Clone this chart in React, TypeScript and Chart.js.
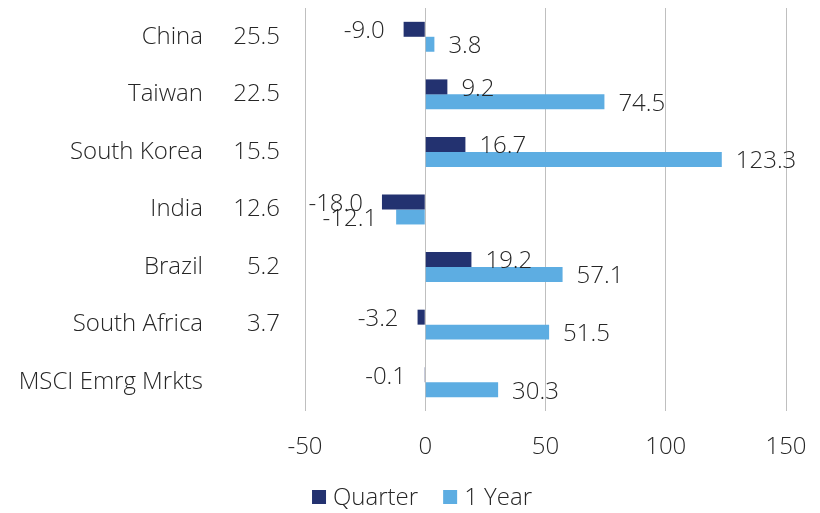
import React, { useEffect, useRef } from "react";
import { Chart, registerables } from "chart.js";

Chart.register(...registerables);

const categories = ["China", "Taiwan", "South Korea", "India", "Brazil", "South Africa", "MSCI Emrg Mrkts"];
const weights = ["25.5", "22.5", "15.5", "12.6", "5.2", "3.7", ""];
const quarter = [-9.0, 9.2, 16.7, -18.0, 19.2, -3.2, -0.1];
const oneYear = [3.8, 74.5, 123.3, -12.1, 57.1, 51.5, 30.3];
const seriesNames = ["Quarter", "1 Year"];
const xMin = -50;
const xMax = 150;
const xStep = 50;

const FONT = "'Open Sans', 'Segoe UI', sans-serif";
const FS = 24;
const TEXT = "#262626";
const NAVY = "#233270";
const LIGHT = "#5DADE2";

const labelPlugin = {
  id: "customLabels",
  afterDraw(chart: any) {
    const ctx = chart.ctx;
    const yScale = chart.scales.y;
    const area = chart.chartArea;
    ctx.save();
    ctx.font = `300 ${FS}px ${FONT}`;
    ctx.fillStyle = TEXT;
    ctx.textBaseline = "middle";
    // category names and weights
    categories.forEach((c, i) => {
      const y = yScale.getPixelForTick(i);
      ctx.textAlign = "right";
      ctx.fillText(c, area.left - 102, y);
      ctx.fillText(weights[i], area.left - 25, y);
    });
    // data labels
    chart.data.datasets.forEach((ds: any, di: number) => {
      const meta = chart.getDatasetMeta(di);
      meta.data.forEach((el: any, i: number) => {
        const v = ds.data[i];
        const txt = v.toFixed(1);
        if (v >= 0) {
          ctx.textAlign = "left";
          ctx.fillText(txt, el.x + 14, el.y + 2);
        } else {
          ctx.textAlign = "right";
          ctx.fillText(txt, el.x - 19, el.y + 2);
        }
      });
    });
    // legend
    const box = 14;
    const gap = 7;
    const itemGap = 25;
    const widths = chart.data.datasets.map((ds: any) => ctx.measureText(ds.label).width);
    const total = widths.reduce((a: number, w: number) => a + box + gap + w, 0) + itemGap * (widths.length - 1);
    let x = chart.width / 2 + 12 - total / 2;
    const ly = chart.height - 16;
    ctx.textAlign = "left";
    chart.data.datasets.forEach((ds: any, di: number) => {
      ctx.fillStyle = ds.backgroundColor;
      ctx.fillRect(x, ly - box / 2, box, box);
      ctx.fillStyle = TEXT;
      ctx.fillText(ds.label, x + box + gap, ly + 1);
      x += box + gap + widths[di] + itemGap;
    });
    ctx.restore();
  },
};

export default function App() {
  const ref = useRef<HTMLCanvasElement>(null);
  useEffect(() => {
    document.body.style.margin = "0";
    const chart = new Chart(ref.current!, {
      type: "bar",
      data: {
        labels: categories,
        datasets: [
          { label: seriesNames[0], data: quarter, backgroundColor: NAVY, categoryPercentage: 0.52, barPercentage: 1 },
          { label: seriesNames[1], data: oneYear, backgroundColor: LIGHT, categoryPercentage: 0.52, barPercentage: 1 },
        ],
      },
      options: {
        indexAxis: "y",
        animation: false,
        responsive: false,
        maintainAspectRatio: false,
        layout: { padding: { top: 8, left: 0, right: 34, bottom: 0 } },
        scales: {
          x: {
            min: xMin,
            max: xMax,
            ticks: { stepSize: xStep, color: TEXT, font: { family: FONT, size: FS, weight: "300" as any }, padding: 22 },
            grid: { color: "#BFBFBF", lineWidth: 1, drawTicks: false },
            border: { display: false },
            afterFit(scale: any) {
              scale.height = 102;
              scale.paddingLeft = 0;
              scale.paddingRight = 0;
            },
          },
          y: {
            ticks: { display: false },
            grid: { display: false },
            border: { display: false },
            afterFit(scale: any) { scale.width = 305; },
          },
        },
        plugins: {
          legend: { display: false },
          tooltip: { enabled: false },
        },
      },
      plugins: [labelPlugin],
    });
    return () => chart.destroy();
  }, []);
  return (
    <div style={{ position: "fixed", left: 0, top: 0, width: 820, height: 513, background: "#fff" }}>
      <canvas ref={ref} width={820} height={513} style={{ width: 820, height: 513 }} />
    </div>
  );
}
